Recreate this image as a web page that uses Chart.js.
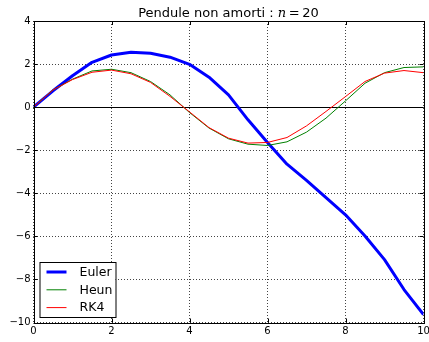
<!DOCTYPE html>
<html>
<head>
<meta charset="utf-8">
<script src="https://cdn.jsdelivr.net/npm/chart.js@4"></script>
<style>
  html, body { margin: 0; padding: 0; background: #fff; }
  canvas { display: block; }
</style>
</head>
<body>
<canvas id="pendule" width="429" height="342"></canvas>
<script>
"use strict";

// temps t, pas h = 0.5 (n = 20)
const tValues = [0, 0.5, 1, 1.5, 2, 2.5, 3, 3.5, 4, 4.5, 5, 5.5, 6, 6.5, 7, 7.5, 8, 8.5, 9, 9.5, 10];

const euler = [0, 0.76, 1.46, 2.08, 2.42, 2.55, 2.5, 2.32, 1.99, 1.39, 0.57, -0.59, -1.64, -2.65, -3.4, -4.2, -5.0, -5.98, -7.08, -8.47, -9.63];
const heun = [0, 0.8, 1.3, 1.68, 1.76, 1.6, 1.19, 0.57, -0.25, -0.97, -1.47, -1.72, -1.78, -1.61, -1.16, -0.51, 0.29, 1.11, 1.6, 1.84, 1.87];
const rk4 = [0, 0.8, 1.28, 1.62, 1.72, 1.55, 1.15, 0.5, -0.22, -0.95, -1.44, -1.67, -1.64, -1.41, -0.87, -0.2, 0.49, 1.19, 1.58, 1.7, 1.6];

const xTicks = [0, 2, 4, 6, 8, 10];
const yTicks = [-10, -8, -6, -4, -2, 0, 2, 4];

const toPoints = (ys) => ys.map((y, i) => ({ x: tValues[i], y }));
const fmtTick = (v) => String(v).replace("-", "\u2212");

// cadre, axe horizontal y = 0, petits traits de graduation vers l'intérieur
const framePlugin = {
  id: "frame",
  beforeDatasetsDraw(chart) {
    const { ctx, chartArea: a, scales } = chart;
    const y0 = Math.round(scales.y.getPixelForValue(0)) + 0.5;
    ctx.save();
    ctx.strokeStyle = "#000";
    ctx.lineWidth = 1;
    ctx.beginPath();
    ctx.moveTo(a.left, y0);
    ctx.lineTo(a.right, y0);
    ctx.stroke();
    ctx.restore();
  },
  afterDraw(chart) {
    const { ctx, chartArea: a, scales } = chart;
    ctx.save();
    ctx.strokeStyle = "#000";
    ctx.lineWidth = 1;
    ctx.beginPath();
    xTicks.forEach((v) => {
      const px = Math.round(scales.x.getPixelForValue(v)) + 0.5;
      ctx.moveTo(px, a.bottom); ctx.lineTo(px, a.bottom - 4);
      ctx.moveTo(px, a.top); ctx.lineTo(px, a.top + 4);
    });
    yTicks.forEach((v) => {
      const py = Math.round(scales.y.getPixelForValue(v)) + 0.5;
      ctx.moveTo(a.left, py); ctx.lineTo(a.left + 4, py);
      ctx.moveTo(a.right, py); ctx.lineTo(a.right - 4, py);
    });
    ctx.stroke();
    ctx.strokeRect(Math.round(a.left) + 0.5, Math.round(a.top) + 0.5,
      Math.round(a.right - a.left), Math.round(a.bottom - a.top));
    ctx.restore();
  },
};

// titre avec le n en italique
const titlePlugin = {
  id: "mathTitle",
  afterDraw(chart) {
    const { ctx, chartArea: a } = chart;
    const parts = [
      { text: "Pendule non amorti : ", font: "13px 'DejaVu Sans'" },
      { text: "n", font: "italic 13px 'DejaVu Serif'" },
      { text: "\u2009=\u200920", font: "13px 'DejaVu Sans'" },
    ];
    ctx.save();
    ctx.fillStyle = "#000";
    ctx.textBaseline = "alphabetic";
    let total = 0;
    parts.forEach((p) => { ctx.font = p.font; p.w = ctx.measureText(p.text).width; total += p.w; });
    let x = (a.left + a.right) / 2 - total / 2;
    parts.forEach((p) => {
      ctx.font = p.font;
      ctx.fillText(p.text, x, 16.5);
      x += p.w;
    });
    ctx.restore();
  },
};

// légende en bas à gauche
const legendPlugin = {
  id: "boxLegend",
  afterDraw(chart) {
    const { ctx, chartArea: a } = chart;
    const left = a.left + 6, top = 262, w = 76, h = 55;
    ctx.save();
    ctx.fillStyle = "#fff";
    ctx.fillRect(left, top, w, h);
    ctx.strokeStyle = "#000";
    ctx.lineWidth = 1;
    ctx.strokeRect(left + 0.5, top + 0.5, w, h);
    ctx.font = "12.5px 'DejaVu Sans'";
    ctx.textBaseline = "middle";
    chart.data.datasets.forEach((ds, i) => {
      const y = top + 10 + i * 17.8;
      ctx.strokeStyle = ds.borderColor;
      ctx.lineWidth = ds.borderWidth;
      ctx.beginPath();
      ctx.moveTo(left + 7, y);
      ctx.lineTo(left + 27, y);
      ctx.stroke();
      ctx.fillStyle = "#000";
      ctx.fillText(ds.label, left + 40, y + 0.5);
    });
    ctx.restore();
  },
};

const gridOpts = { color: "#444", lineWidth: 1, drawTicks: false };

new Chart(document.getElementById("pendule"), {
  type: "line",
  data: {
    datasets: [
      { label: "Euler", data: toPoints(euler), borderColor: "#0000ff", borderWidth: 3, order: 2 },
      { label: "Heun", data: toPoints(heun), borderColor: "#008000", borderWidth: 1, order: 1 },
      { label: "RK4", data: toPoints(rk4), borderColor: "#ff0000", borderWidth: 1, order: 0 },
    ],
  },
  options: {
    responsive: false,
    animation: false,
    devicePixelRatio: 1,
    layout: { padding: { top: 21, right: 5.5, left: 0, bottom: 0 } },
    elements: {
      point: { radius: 0 },
      line: { tension: 0, fill: false, borderJoinStyle: "round" },
    },
    plugins: { legend: { display: false }, title: { display: false }, tooltip: { enabled: false } },
    scales: {
      x: {
        type: "linear",
        min: 0,
        max: 10,
        afterBuildTicks: (s) => { s.ticks = xTicks.map((v) => ({ value: v })); },
        afterFit: (s) => { s.height = 19.5; s.paddingLeft = 0; s.paddingRight = 0; },
        grid: gridOpts,
        border: { display: false, dash: [1, 2] },
        ticks: { color: "#000", padding: 3, font: { family: "DejaVu Sans", size: 10 }, maxRotation: 0, callback: fmtTick },
      },
      y: {
        type: "linear",
        min: -10,
        max: 4,
        afterBuildTicks: (s) => { s.ticks = yTicks.map((v) => ({ value: v })); },
        afterFit: (s) => { s.width = 33.5; s.paddingTop = 0; s.paddingBottom = 0; },
        grid: gridOpts,
        border: { display: false, dash: [1, 2] },
        ticks: { color: "#000", padding: 3, font: { family: "DejaVu Sans", size: 10 }, callback: fmtTick },
      },
    },
  },
  plugins: [framePlugin, titlePlugin, legendPlugin],
});
</script>
</body>
</html>
